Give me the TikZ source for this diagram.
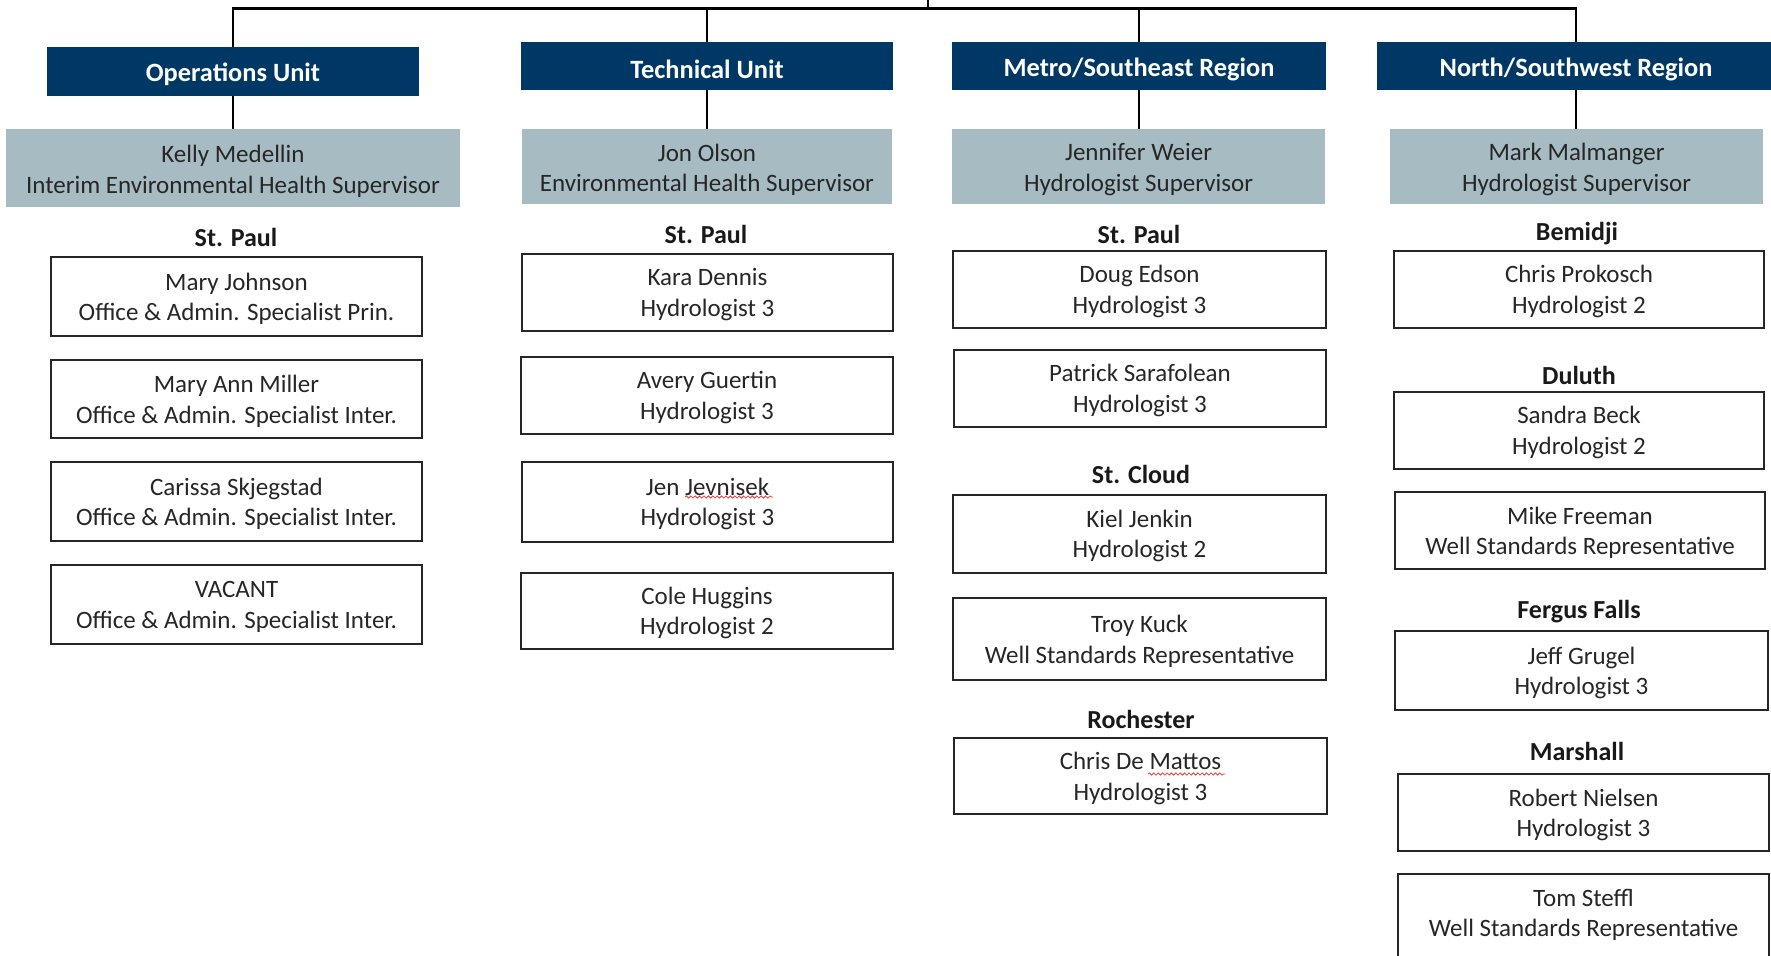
\documentclass[tikz,border=0pt]{standalone}
\usepackage{fontspec}
\setmainfont{Carlito}
\usetikzlibrary{decorations.pathmorphing}
\definecolor{navy}{RGB}{0,56,101}
\definecolor{supgray}{RGB}{166,188,194}
\definecolor{txt}{RGB}{38,38,38}
\definecolor{spell}{RGB}{230,60,60}
\tikzset{
  hdr/.style={fill=navy, inner sep=0pt},
  sup/.style={fill=supgray, inner sep=0pt},
  emp/.style={draw=black!85, line width=0.65pt, inner sep=0pt},
  hdrtxt/.style={text=white, inner sep=0pt, yshift=-1.6pt, font=\bfseries\fontsize{13.2}{16}\selectfont},
  suptxt/.style={text=txt, inner sep=0pt, yshift=-1.6pt, align=center, font=\fontsize{12.5}{15.25}\selectfont},
  emptxt/.style={text=txt, inner sep=0pt, yshift=-1.1pt, align=center, font=\fontsize{12.5}{15.25}\selectfont},
  loc/.style={text=black!90, inner sep=0pt, font=\bfseries\fontsize{13}{15}\selectfont},
  conn/.style={draw=black, line width=0.95pt},
  topconn/.style={draw=black, line width=1.15pt},
  squiggle/.style={draw=spell, line width=0.4pt, decorate, decoration={snake, amplitude=0.55pt, segment length=2.2pt}}
}
\newcommand\pbox[7]{\node[#1, minimum width={(#5-#3)*0.5pt}, minimum height={(#6-#4)*0.5pt}] (#2) at ({(#3+#5)/2},{(#4+#6)/2}) {};
  \node[#1txt] (#2t) at (#2.center) {#7};}
\begin{document}
\begin{tikzpicture}[x=0.5pt,y=-0.5pt]
\useasboundingbox (0,0) rectangle (1771,955);
\clip (0,0) rectangle (1771,955);
% headers
\pbox{hdr}{h1}{47}{47}{419}{96}{Operations Unit}
\pbox{hdr}{h2}{521}{42}{893}{90}{Technical Unit}
\pbox{hdr}{h3}{952}{42}{1326}{90}{Metro/Southeast Region}
\pbox{hdr}{h4}{1377}{42}{1775}{90}{North/Southwest Region}
% supervisors
\pbox{sup}{s1}{6}{129}{460}{207}{Kelly Medellin\\Interim Environmental Health Supervisor}
\pbox{sup}{s2}{522}{129}{892}{204}{Jon Olson\\Environmental Health Supervisor}
\pbox{sup}{s3}{952}{129}{1325}{204}{Jennifer Weier\\Hydrologist Supervisor}
\pbox{sup}{s4}{1390}{129}{1763}{204}{Mark Malmanger\\Hydrologist Supervisor}
% connectors
\coordinate (top) at (0,8.5);
\coordinate (root) at (928,-5);
\draw[topconn] (h1.north) -- (h1.north |- top) -- (h4.north |- top) -- (h4.north);
\draw[topconn] (h2.north) -- (h2.north |- top);
\draw[topconn] (h3.north) -- (h3.north |- top);
\draw[topconn] (root) -- (root |- top);
\draw[conn] (h1.south) -- (h1.south |- s1.north);
\draw[conn] (h2.south) -- (h2.south |- s2.north);
\draw[conn] (h3.south) -- (h3.south |- s3.north);
\draw[conn] (h4.south) -- (h4.south |- s4.north);
% locations
\node[loc] (l1) at (236,237) {St. Paul};
\node[loc] (l2) at (706,234) {St. Paul};
\node[loc] (l3) at (1139,234) {St. Paul};
\node[loc] (l4) at (1141,474) {St. Cloud};
\node[loc] (l5) at (1141,719) {Rochester};
\node[loc] (l6) at (1577,234) {Bemidji};
\node[loc] (l7) at (1579,375) {Duluth};
\node[loc] (l8) at (1579,612) {Fergus Falls};
\node[loc] (l9) at (1577,751) {Marshall};
% Operations
\pbox{emp}{e11}{51}{257}{422}{336}{Mary Johnson\\Office \& Admin. Specialist Prin.}
\pbox{emp}{e12}{51}{360}{422}{438}{Mary Ann Miller\\Office \& Admin. Specialist Inter.}
\pbox{emp}{e13}{51}{462}{422}{541}{Carissa Skjegstad\\Office \& Admin. Specialist Inter.}
\pbox{emp}{e14}{51}{565}{422}{644}{VACANT\\Office \& Admin. Specialist Inter.}
% Technical
\pbox{emp}{e21}{522}{254}{893}{331}{Kara Dennis\\Hydrologist 3}
\pbox{emp}{e22}{521}{357}{893}{434}{Avery Guertin\\Hydrologist 3}
\pbox{emp}{e23}{522}{462}{893}{542}{Jen Jevnisek\\Hydrologist 3}
\pbox{emp}{e24}{521}{573}{893}{649}{Cole Huggins\\Hydrologist 2}
% Metro
\pbox{emp}{e31}{953}{251}{1326}{328}{Doug Edson\\Hydrologist 3}
\pbox{emp}{e32}{954}{350}{1326}{427}{Patrick Sarafolean\\Hydrologist 3}
\pbox{emp}{e33}{953}{495}{1326}{573}{Kiel Jenkin\\Hydrologist 2}
\pbox{emp}{e34}{953}{598}{1326}{680}{Troy Kuck\\Well Standards Representative}
\pbox{emp}{e35}{954}{738}{1327}{814}{Chris De Mattos\\Hydrologist 3}
% North
\pbox{emp}{e41}{1394}{251}{1764}{328}{Chris Prokosch\\Hydrologist 2}
\pbox{emp}{e42}{1394}{392}{1764}{469}{Sandra Beck\\Hydrologist 2}
\pbox{emp}{e43}{1395}{492}{1765}{569}{Mike Freeman\\Well Standards Representative}
\pbox{emp}{e44}{1395}{631}{1768}{710}{Jeff Grugel\\Hydrologist 3}
\pbox{emp}{e45}{1398}{774}{1769}{851}{Robert Nielsen\\Hydrologist 3}
\node[emp, minimum width={371*0.5pt}, minimum height={86*0.5pt}] (e46) at (1583.5,917) {};
\node[emptxt, yshift=2.1pt] (e46t) at (e46.center) {Tom Steffl\\Well Standards Representative};
% spell-check marks
\draw[squiggle] (685,497) -- (773,497);
\draw[squiggle] (1148,774) -- (1225,774);
\end{tikzpicture}
\end{document}
